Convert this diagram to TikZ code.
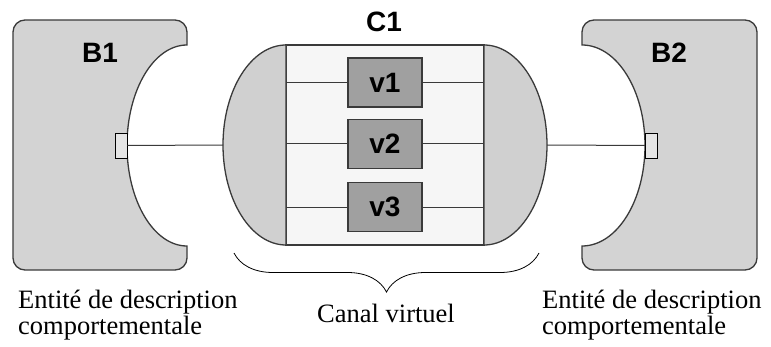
\documentclass[tikz,border=0pt]{standalone}
\usepackage{fontspec}
\setmainfont{Liberation Serif}
\newfontfamily\arialfont{Liberation Sans}
\usepackage{xcolor}
\usetikzlibrary{decorations}
\usetikzlibrary{decorations.pathreplacing}
\usetikzlibrary{calc}

\definecolor{traitgris}{HTML}{3A3A3A}
\definecolor{blocgris}{HTML}{D3D3D3}
\definecolor{capgris}{HTML}{D0D0D0}
\definecolor{canalgris}{HTML}{F6F6F6}
\definecolor{vgris}{HTML}{A0A0A0}

\begin{document}
\begin{tikzpicture}[x=1pt,y=1pt,
	trait/.style={draw=traitgris,line width=1pt},
	bloc/.style={trait,fill=blocgris,line width=1.3pt},
	titre/.style={font={\arialfont\bfseries\fontsize{28}{28}\selectfont},inner sep=0pt},
	vbox/.style={trait,fill=vgris,line width=1.3pt,minimum width=74pt,minimum height=49pt,inner sep=0pt,font={\arialfont\bfseries\fontsize{28}{28}\selectfont}},
	port/.style={draw=black,line width=0.9pt,fill=gray!20,minimum width=12pt,minimum height=25pt,inner sep=0pt},
	legende/.style={font={\fontsize{26.5}{26}\selectfont},inner sep=0pt,align=left}]
	\useasboundingbox (0,0) rectangle (771,346);

	% bloc B1
	\draw[bloc] (187,100) arc[start angle=-90,end angle=-270,x radius=60,y radius=100.5]
		-- (187,314) arc[start angle=0,end angle=90,radius=12]
		-- (25,326) arc[start angle=90,end angle=180,radius=12]
		-- (13,88) arc[start angle=180,end angle=270,radius=12]
		-- (175,76) arc[start angle=270,end angle=360,radius=12] -- cycle;
	\node[titre,anchor=base] (B1) at (100,283) {B1};
	\node[port] (P1) at (121,200.5) {};

	% bloc B2
	\draw[bloc] (582,100) arc[start angle=-90,end angle=90,x radius=63,y radius=100.5]
		-- (582,314) arc[start angle=180,end angle=90,radius=12]
		-- (745,326) arc[start angle=90,end angle=0,radius=12]
		-- (757,88) arc[start angle=360,end angle=270,radius=12]
		-- (594,76) arc[start angle=270,end angle=180,radius=12] -- cycle;
	\node[titre,anchor=base] (B2) at (669,283) {B2};
	\node[port] (P2) at (651.5,200.5) {};

	% canal C1
	\draw[trait,fill=canalgris,line width=1.3pt] (286,101) rectangle (484,301);
	\draw[trait,fill=capgris,line width=1.3pt] (286,301) arc[start angle=90,end angle=270,x radius=63,y radius=100] -- cycle;
	\draw[trait,fill=capgris,line width=1.3pt] (484,101) arc[start angle=-90,end angle=90,x radius=63,y radius=100] -- cycle;
	\node[titre,anchor=base] (C1) at (384,314) {C1};
	\coordinate (C1g) at (223,201);
	\coordinate (C1d) at (547,201);
	\coordinate (Mg) at (286,201);
	\coordinate (Md) at (484,201);

	\node[vbox] (v1) at (385,263.5) {v1};
	\node[vbox] (v2) at (385,202) {v2};
	\node[vbox] (v3) at (385,139) {v3};
	\foreach \v in {v1,v2,v3}{
		\draw[trait] (\v.west -| Mg) -- (\v.west);
		\draw[trait] (\v.east) -- (\v.east -| Md);
	}

	\draw[trait] (P1.east) -- (C1g);
	\draw[trait] (C1d) -- (P2.west);

	% accolade
	\coordinate (Ag) at (234,93);
	\coordinate (Ad) at (539,93);
	\draw[line width=0.8pt,decorate,decoration={brace,mirror,amplitude=39pt}] (Ag) -- (Ad);

	% base = derniere ligne
	\node[legende,anchor=base west] (T1) at (18,12) {Entité de description\\comportementale};
	\node[legende,anchor=base] (T2) at (386,24) {Canal virtuel};
	\node[legende,anchor=base west] (T3) at (542,12) {Entité de description\\comportementale};
\end{tikzpicture}
\end{document}
